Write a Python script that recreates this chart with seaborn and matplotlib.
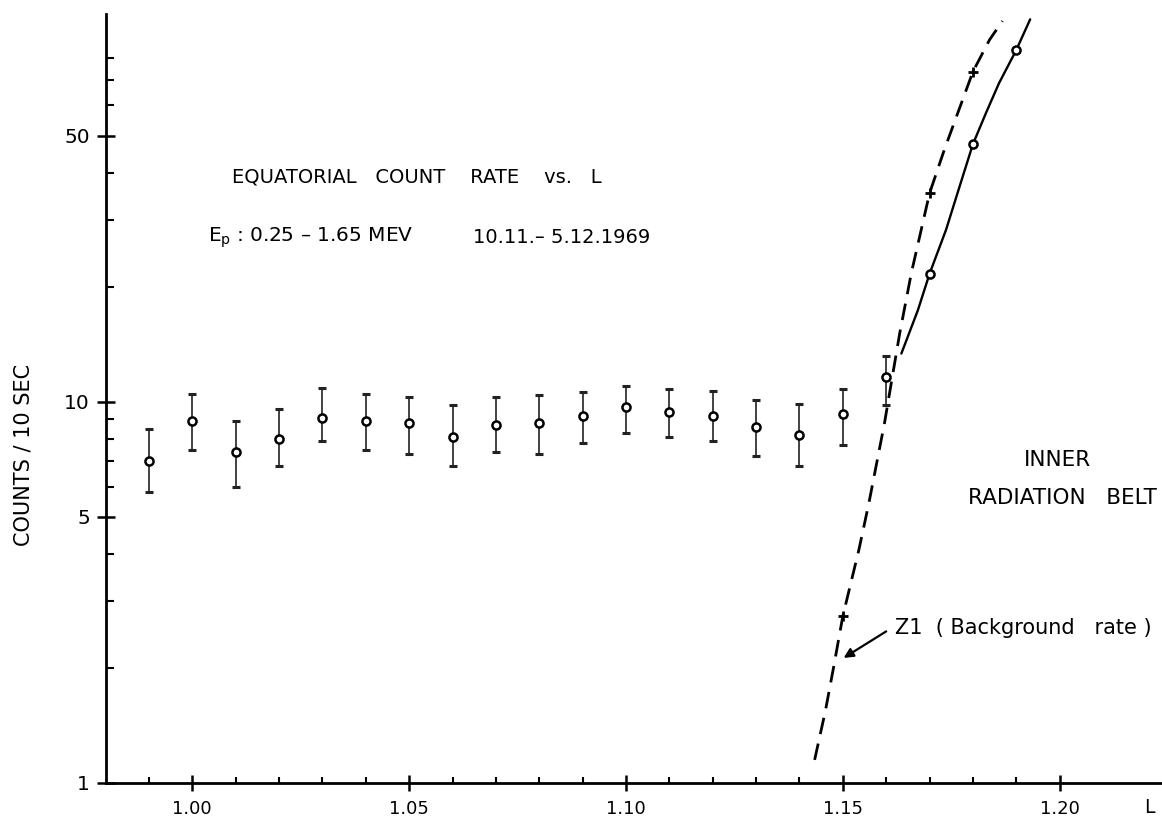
import numpy as np
import matplotlib
matplotlib.use("Agg")
import matplotlib.pyplot as plt
import matplotlib.transforms as mtransforms
from matplotlib.ticker import FixedLocator, FixedFormatter, NullFormatter
import seaborn as sns

# ---------------- data ----------------
L_eq = [0.99, 1.00, 1.01, 1.02, 1.03, 1.04, 1.05, 1.06, 1.07, 1.08,
        1.09, 1.10, 1.11, 1.12, 1.13, 1.14, 1.15, 1.16]
rate_eq = [7.0, 8.9, 7.4, 8.0, 9.1, 8.9, 8.8, 8.1, 8.7, 8.8,
           9.2, 9.7, 9.4, 9.2, 8.6, 8.2, 9.3, 11.6]
upper_eq = [8.5, 10.5, 8.9, 9.6, 10.9, 10.5, 10.3, 9.8, 10.3, 10.4,
            10.6, 11.0, 10.8, 10.7, 10.1, 9.9, 10.8, 13.2]
lower_eq = [5.8, 7.5, 6.0, 6.8, 7.9, 7.5, 7.3, 6.8, 7.4, 7.3,
            7.8, 8.3, 8.1, 7.9, 7.2, 6.8, 7.7, 9.8]

# inner radiation belt points (solid curve)
L_belt_pts = [1.17, 1.18, 1.19]
rate_belt_pts = [21.7, 47.5, 83.9]
L_belt_curve = [1.1635, 1.1673, 1.1700, 1.1738, 1.1769, 1.1800, 1.1830, 1.1860, 1.1900, 1.1932]
rate_belt_curve = [13.4, 17.4, 21.7, 28.3, 36.7, 47.5, 57.3, 68.6, 83.9, 101.0]

# Z1 background rate (dashed curve, + markers)
L_bg_pts = [1.15, 1.17, 1.18]
rate_bg_pts = [2.74, 35.3, 73.6]
L_bg_curve = [1.1435, 1.1460, 1.1479, 1.1500, 1.1537, 1.1560, 1.1596, 1.1631,
              1.1658, 1.1700, 1.1734, 1.1765, 1.1800, 1.1838, 1.1868]
rate_bg_curve = [1.15, 1.55, 2.02, 2.74, 4.09, 5.42, 8.79, 15.1,
                 21.8, 35.3, 45.9, 57.3, 73.6, 89.1, 100.0]

x_major = [1.00, 1.05, 1.10, 1.15, 1.20]
x_major_labels = ["1.00", "1.05", "1.10", "1.15", "1.20"]
x_minor = [0.99, 1.01, 1.02, 1.03, 1.04, 1.06, 1.07, 1.08, 1.09, 1.11,
           1.12, 1.13, 1.14, 1.16, 1.17, 1.18, 1.19]
y_major = [1, 5, 10, 50]
y_major_labels = ["1", "5", "10", "50"]
y_minor = [2, 3, 4, 6, 7, 8, 9, 20, 30, 40, 60, 70, 80]

# ---------------- style ----------------
sns.set_theme(style="ticks")
plt.rcParams["font.family"] = ["DejaVu Sans"]
plt.rcParams["text.color"] = "black"
plt.rcParams["axes.labelcolor"] = "black"
plt.rcParams["xtick.color"] = "black"
plt.rcParams["ytick.color"] = "black"
plt.rcParams["mathtext.fontset"] = "dejavusans"

W, H = 1162, 836
fig = plt.figure(figsize=(W / 100, H / 100), dpi=100)
ax_left, ax_right, ax_top, ax_bottom = 106, 1162, 14, 783
ax = fig.add_axes([ax_left / W, 1 - ax_bottom / H,
                   (ax_right - ax_left) / W, (ax_bottom - ax_top) / H])
ax.set_facecolor("white")
ax.set_yscale("log")
ax.set_xlim(0.9801, 1.2236)
ax.set_ylim(1, 104.3)

# error bars
rate_arr = np.array(rate_eq)
yerr = [rate_arr - np.array(lower_eq), np.array(upper_eq) - rate_arr]
ax.errorbar(L_eq, rate_eq, yerr=yerr, fmt="none", ecolor="#222222",
            elinewidth=1.2, capsize=3, capthick=2.2, zorder=2)

# curves
sns.lineplot(x=L_bg_curve, y=rate_bg_curve, sort=False, estimator=None,
             color="black", lw=2.0, ax=ax, zorder=1)
ax.lines[-1].set_dashes((6, 3.5))
sns.lineplot(x=L_belt_curve, y=rate_belt_curve, sort=False, estimator=None,
             color="black", lw=1.7, ax=ax, zorder=1)

# markers
sns.scatterplot(x=L_eq, y=rate_eq, marker="o", s=34, facecolor="white",
                edgecolor="black", linewidth=1.8, ax=ax, zorder=3)
sns.scatterplot(x=L_belt_pts, y=rate_belt_pts, marker="o", s=34, facecolor="white",
                edgecolor="black", linewidth=1.8, ax=ax, zorder=3)
sns.scatterplot(x=L_bg_pts, y=rate_bg_pts, marker="+", s=50, color="black",
                linewidth=2.0, ax=ax, zorder=3)

# spines & ticks
sns.despine(ax=ax)
for s in ["left", "bottom"]:
    ax.spines[s].set_linewidth(2.0)
    ax.spines[s].set_color("black")

ax.xaxis.set_major_locator(FixedLocator(x_major))
ax.xaxis.set_major_formatter(FixedFormatter(x_major_labels))
ax.xaxis.set_minor_locator(FixedLocator(x_minor))
ax.xaxis.set_minor_formatter(NullFormatter())
ax.yaxis.set_major_locator(FixedLocator(y_major))
ax.yaxis.set_major_formatter(FixedFormatter(y_major_labels))
ax.yaxis.set_minor_locator(FixedLocator(y_minor))
ax.yaxis.set_minor_formatter(NullFormatter())

ax.tick_params(axis="x", which="major", direction="inout", length=12, width=1.8,
               pad=6, labelsize=13)
ax.tick_params(axis="x", which="minor", direction="in", length=4.5, width=1.5)
ax.tick_params(axis="y", which="major", direction="inout", length=13, width=1.8,
               pad=5, labelsize=14.5)
ax.tick_params(axis="y", which="minor", direction="in", length=6, width=1.5)

ax.set_xlabel("")
ax.set_ylabel("COUNTS / 10 SEC", fontsize=15)
ax.yaxis.set_label_coords(-0.069, 0.4265)

# "L" axis label placed at the end of the x axis
trans = mtransforms.blended_transform_factory(ax.transData, ax.transAxes)
ax.text(1.2208, -0.0325, "L", transform=trans, ha="center", va="center", fontsize=13.5)

# annotations
ax.text(0.119, 0.788, "EQUATORIAL   COUNT    RATE    vs.   L", transform=ax.transAxes,
        ha="left", va="center", fontsize=14)
ax.text(0.0966, 0.709, r"E$_{\mathregular{p}}$ : 0.25 – 1.65 MEV", transform=ax.transAxes,
        ha="left", va="center", fontsize=14.5)
ax.text(0.3475, 0.709, "10.11.– 5.12.1969", transform=ax.transAxes,
        ha="left", va="center", fontsize=14)
ax.text(0.9015, 0.420, "INNER", transform=ax.transAxes,
        ha="center", va="center", fontsize=15.5)
ax.text(0.995, 0.3706, "RADIATION   BELT", transform=ax.transAxes,
        ha="right", va="center", fontsize=15.5)
ax.text(0.747, 0.2016, "Z1  ( Background   rate )", transform=ax.transAxes,
        ha="left", va="center", fontsize=15)
ax.annotate("", xy=(1.1502, 2.13), xytext=(1.1600, 2.50),
            arrowprops=dict(arrowstyle="-|>", lw=1.6, color="black",
                            mutation_scale=14, shrinkA=0, shrinkB=0))

fig.savefig("out.png", dpi=100, facecolor="white")
